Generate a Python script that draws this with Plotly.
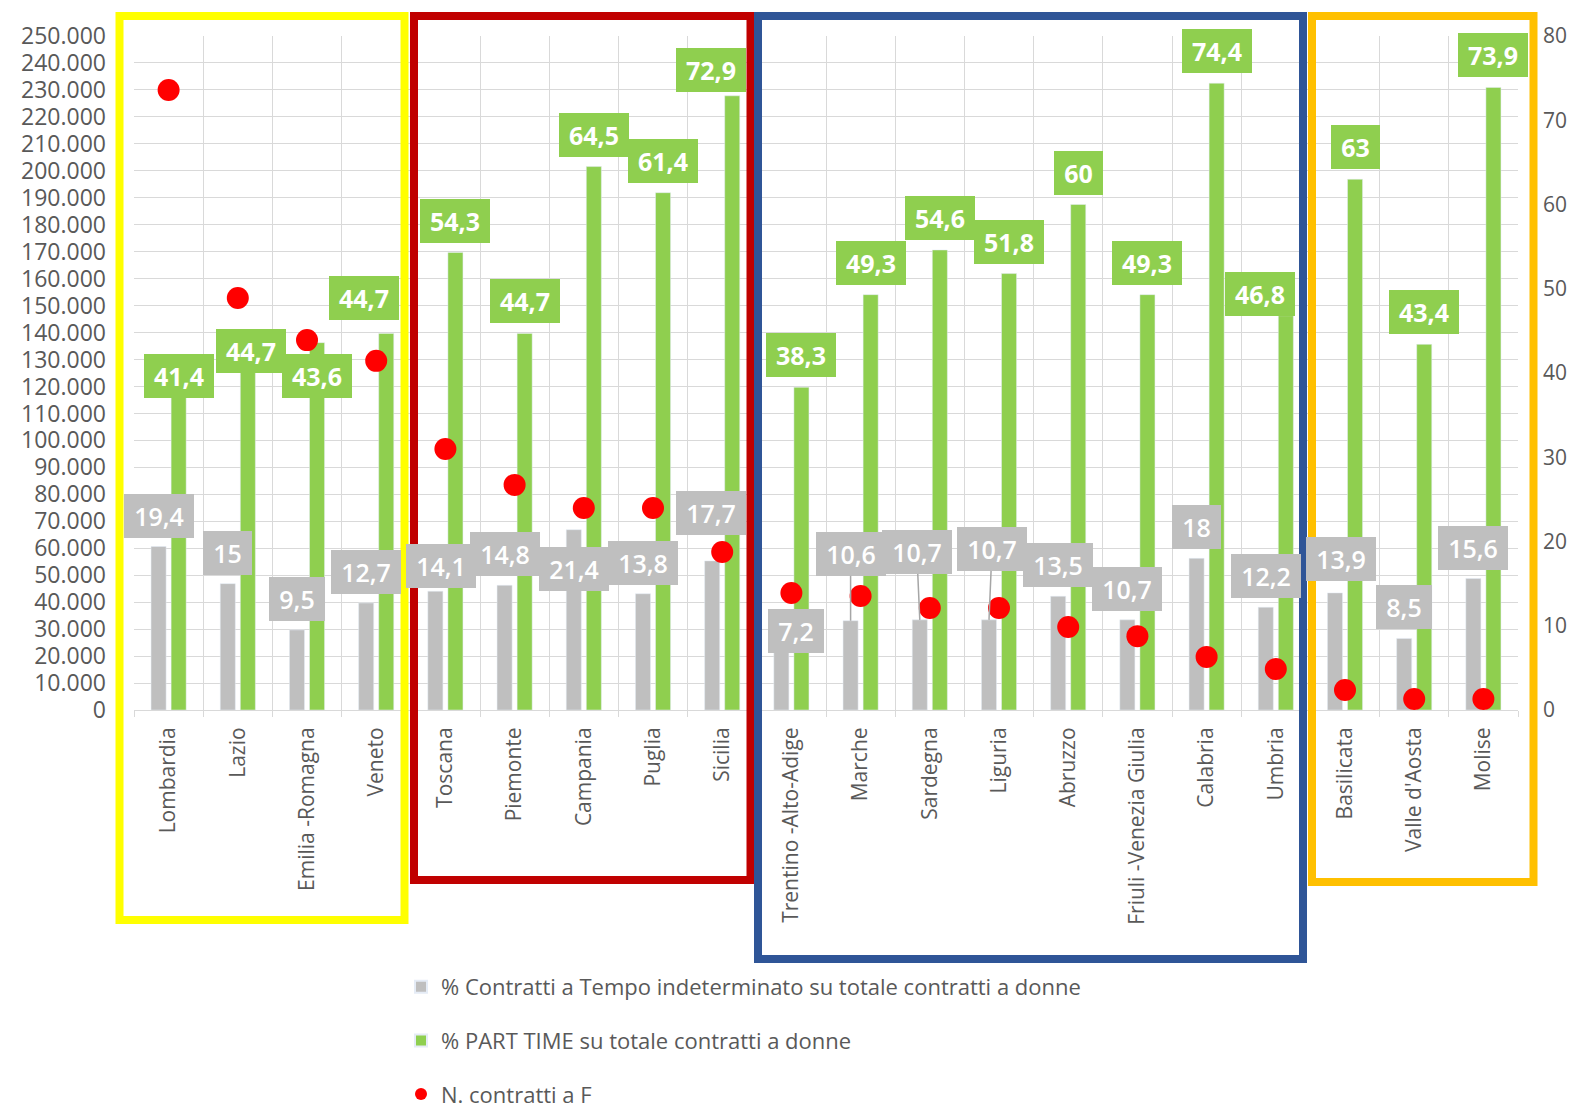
import plotly.graph_objects as go

# ---- data -------------------------------------------------------------
regioni = ["Lombardia", "Lazio", "Emilia -Romagna", "Veneto",
           "Toscana", "Piemonte", "Campania", "Puglia", "Sicilia",
           "Trentino -Alto-Adige", "Marche", "Sardegna", "Liguria", "Abruzzo",
           "Friuli -Venezia Giulia", "Calabria", "Umbria",
           "Basilicata", "Valle d'Aosta", "Molise"]

pct_indeterminato = [19.4, 15, 9.5, 12.7,
                     14.1, 14.8, 21.4, 13.8, 17.7,
                     7.2, 10.6, 10.7, 10.7, 13.5, 10.7, 18, 12.2,
                     13.9, 8.5, 15.6]

pct_part_time = [41.4, 44.7, 43.6, 44.7,
                 54.3, 44.7, 64.5, 61.4, 72.9,
                 38.3, 49.3, 54.6, 51.8, 60, 49.3, 74.4, 46.8,
                 63, 43.4, 73.9]

n_contratti_f = [230000, 152800, 137200, 129500,
                 96800, 83500, 74900, 74900, 58600,
                 43400, 42300, 37800, 37800, 30800, 27400, 19700, 15200,
                 7400, 4100, 4100]

name_indet = "% Contratti a Tempo indeterminato su totale contratti a donne"
name_pt = "% PART TIME su totale contratti a donne"
name_n = "N. contratti a F"

left_ticks = list(range(0, 250001, 10000))
right_ticks = list(range(0, 81, 10))

# ---- geometry & style -------------------------------------------------
W, H = 1574, 1112
PL, PR, PT, PB = 134, 1518, 36, 710

GREY = "#BFBFBF"
GREEN = "#8FCF4F"
RED = "#FF0000"
TXT = "#595959"
GRID = "#D9D9D9"
FONT = "Open Sans"


def px_x(p):
    return (p - PL) / (PR - PL)


def px_y(p):
    return (PB - p) / (PB - PT)


fig = go.Figure()

fig.add_trace(go.Bar(
    x=regioni, y=pct_indeterminato, name=name_indet, marker_color=GREY,
    yaxis="y", legendgroup="a", hoverinfo="skip"))
fig.add_trace(go.Bar(
    x=regioni, y=pct_part_time, name=name_pt, marker_color=GREEN,
    yaxis="y", legendgroup="b", hoverinfo="skip"))
fig.add_trace(go.Scatter(
    x=regioni, y=n_contratti_f, name=name_n, mode="markers",
    marker=dict(color=RED, size=22), yaxis="y2", legendgroup="c",
    cliponaxis=False, hoverinfo="skip"))

# ---- data labels ------------------------------------------------------
BAR_SHIFT = 10  # half distance between the two bars of a group (px)
GREEN_DEFAULT = (0, -32)
GREY_DEFAULT = (0, -31)
green_offsets = {"Lombardia": (0, 15), "Lazio": (3, 18),
                 "Emilia -Romagna": (0, 33), "Veneto": (-22, -35),
                 "Sicilia": (-21, -26), "Umbria": (-26, -22)}
grey_offsets = {"Toscana": (6, -25), "Campania": (0, 39), "Sicilia": (-1, -48),
                "Trentino -Alto-Adige": (15, -18), "Marche": (0, -67),
                "Sardegna": (-3, -68), "Liguria": (3, -71),
                "Basilicata": (6, -34)}
leader_lines = {"Marche", "Sardegna", "Liguria"}


def fmt(v):
    return f"{v:g}".replace(".", ",")


def box_width(s):
    digits = sum(ch.isdigit() for ch in s)
    commas = s.count(",")
    return round(digits * 14.3 + commas * 7.5 + 20)


annotations = []
for cat, g, p in zip(regioni, pct_indeterminato, pct_part_time):
    for val, sign, offs, default, bg, weight in (
            (g, -1, grey_offsets, GREY_DEFAULT, GREY, 600),
            (p, 1, green_offsets, GREEN_DEFAULT, GREEN, 700)):
        dx, dy = offs.get(cat, default)
        txt = fmt(val)
        base = dict(x=cat, y=val, xref="x", yref="y", text=txt,
                    bgcolor=bg, width=box_width(txt), height=44,
                    borderpad=0, borderwidth=0,
                    font=dict(family=FONT, size=25, color="white",
                              weight=weight))
        if bg == GREY and cat in leader_lines:
            base.update(xshift=sign * BAR_SHIFT, showarrow=True, ax=dx, ay=dy,
                        arrowhead=0, arrowwidth=1.5, arrowcolor="#A6A6A6")
        else:
            base.update(xshift=sign * BAR_SHIFT + dx, yshift=-dy,
                        showarrow=False, xanchor="center", yanchor="middle")
        annotations.append(base)

# ---- group frames -----------------------------------------------------
frames = [(119.5, 404.5, 16, 920, "#FFFF00"),
          (414, 750.5, 16, 880, "#C00000"),
          (758, 1303, 16, 959, "#2F5597"),
          (1312, 1533.5, 16, 882, "#FFC000")]
shapes = [dict(type="rect", xref="paper", yref="paper",
               x0=px_x(x0), x1=px_x(x1), y0=px_y(yb), y1=px_y(yt),
               line=dict(color=c, width=8), fillcolor="rgba(0,0,0,0)",
               layer="above")
          for x0, x1, yt, yb, c in frames]

fig.update_layout(
    width=W, height=H,
    margin=dict(l=PL, r=W - PR, t=PT, b=H - PB, pad=0, autoexpand=False),
    paper_bgcolor="white", plot_bgcolor="white",
    separators=",.",
    font=dict(family=FONT, color=TXT),
    barmode="group", bargap=0.42, bargroupgap=0.25,
    showlegend=True,
    legend=dict(x=px_x(401), y=px_y(966), xanchor="left", yanchor="top",
                orientation="v", traceorder="grouped", tracegroupgap=22,
                itemsizing="constant",
                font=dict(family=FONT, size=22, color=TXT),
                bgcolor="rgba(0,0,0,0)"),
    xaxis=dict(type="category", tickson="boundaries", showgrid=True,
               gridcolor=GRID, gridwidth=1, showline=True, linecolor=GRID,
               linewidth=1, ticks="outside", ticklen=6, tickcolor=GRID,
               tickangle=-90, tickfont=dict(family=FONT, size=21, color=TXT),
               ticklabelstandoff=8, range=[-0.5, len(regioni) - 0.5],
               automargin=False),
    yaxis=dict(range=[0, 80], tickvals=right_ticks, side="right",
               showgrid=False, zeroline=False, showline=False,
               tickfont=dict(family=FONT, size=21, color=TXT),
               ticklabelstandoff=24, automargin=False),
    yaxis2=dict(range=[0, 250000], tickvals=left_ticks, tickformat=",.0f",
                overlaying="y", side="left", showgrid=True, gridcolor=GRID,
                gridwidth=1, zeroline=False, showline=False,
                tickfont=dict(family=FONT, size=23, color=TXT),
                ticklabelstandoff=27, automargin=False),
    annotations=annotations,
    shapes=shapes,
)

fig.write_html("out.html")
